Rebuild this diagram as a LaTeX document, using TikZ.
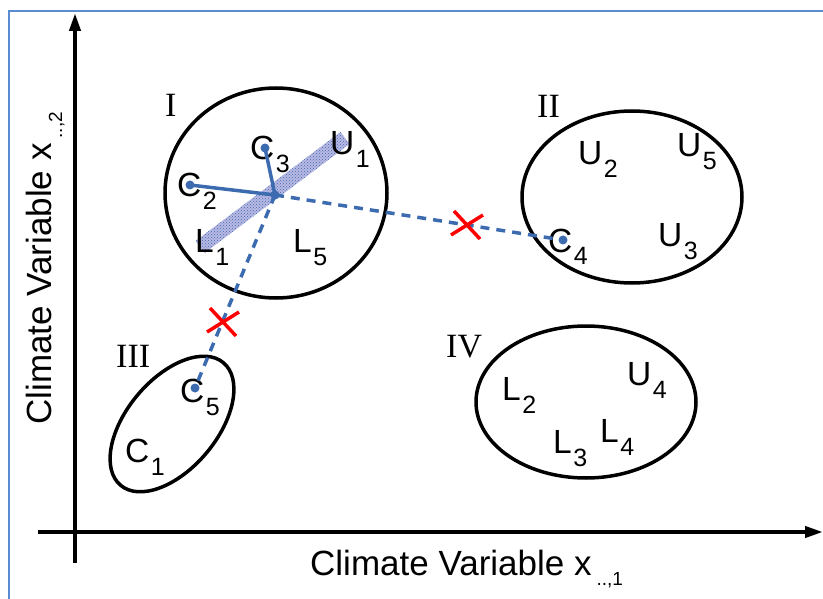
\documentclass[tikz,border=0pt]{standalone}
\usepackage{fontspec}
\setmainfont{Liberation Sans}
\newfontfamily\romfont{Liberation Serif}
\usetikzlibrary{arrows.meta,patterns}
\definecolor{cblue}{HTML}{3D6BB0}
\definecolor{framec}{HTML}{5B8BD0}
\definecolor{bandc}{RGB}{185,185,228}
\newcommand{\sbs}[1]{\kern1.5pt\raisebox{-13pt}{\fontsize{25}{25}\selectfont #1}}
\newcommand{\axsub}[1]{\kern5pt\raisebox{-10pt}{\fontsize{19}{19}\selectfont #1}}
\tikzset{
  lab/.style={anchor=base west, inner sep=0pt, font=\fontsize{33.5}{33.5}\selectfont},
  roman/.style={anchor=base west, inner sep=0pt, font=\romfont\fontsize{34}{34}\selectfont},
  axlab/.style={anchor=base west, inner sep=0pt, font=\fontsize{35}{35}\selectfont},
  cluster/.style={line width=3.5pt},
  link/.style={cblue, line width=3.5pt},
  dlink/.style={cblue, line width=3.5pt, dash pattern=on 9pt off 7pt},
  cross/.style={red, line width=3.5pt}
}
\begin{document}
\begin{tikzpicture}[x=1pt,y=-1pt]
\useasboundingbox (0,0) rectangle (823,599);
% frame
\draw[framec, line width=2pt] (9,599) -- (9,11) -- (823,11);
% axes
\coordinate (xs) at (38,532);
\coordinate (xe) at (823,532);
\coordinate (ys) at (75,563);
\coordinate (ye) at (75,13);
\draw[line width=4pt, -{Triangle[length=18pt,width=11pt]}] (xs) -- (xe);
\draw[line width=4pt, -{Triangle[length=18pt,width=11pt]}] (ys) -- (ye);
\node[axlab] (xlab) at (310,575) {Climate Variable x\axsub{..,1}};
\node[axlab, rotate=90] (ylab) at (52,425) {Climate Variable x\axsub{..,2}};
% clusters
\draw[cluster] (276,193) ellipse [x radius=111, y radius=105];
\draw[cluster] (632,197) ellipse [x radius=110, y radius=86];
\draw[cluster, rotate around={50:(172,424)}] (172,424) ellipse [x radius=80, y radius=45];
\draw[cluster] (586,402) ellipse [x radius=110, y radius=76];
\node[roman] (rI) at (165,117) {I};
\node[roman] (rII) at (537,118) {II};
\node[roman] (rIII) at (116,367) {III};
\node[roman] (rIV) at (446,357) {IV};
% band
\fill[bandc] (195.5,241) -- (204.5,253) -- (349.5,144) -- (340.5,132) -- cycle;
\fill[pattern=crosshatch dots, pattern color=cblue] (195.5,241) -- (204.5,253) -- (349.5,144) -- (340.5,132) -- cycle;
% labels
\node[lab] (c3) at (250,160) {C\sbs{3}};
\node[lab] (u1) at (330,155) {U\sbs{1}};
\node[lab] (c2) at (177,197) {C\sbs{2}};
\node[lab] (l1) at (195,253) {L\sbs{1}};
\node[lab] (l5) at (293,253) {L\sbs{5}};
\node[lab] (c4) at (548,252) {C\sbs{4}};
\node[lab] (u2) at (578,165) {U\sbs{2}};
\node[lab] (u5) at (677,157) {U\sbs{5}};
\node[lab] (u3) at (658,247) {U\sbs{3}};
\node[lab] (l2) at (502,400) {L\sbs{2}};
\node[lab] (u4) at (627,385) {U\sbs{4}};
\node[lab] (l3) at (553,453) {L\sbs{3}};
\node[lab] (l4) at (600,442) {L\sbs{4}};
\node[lab] (c5) at (180,402) {C\sbs{5}};
\node[lab] (c1) at (125,462) {C\sbs{1}};
% centroids
\coordinate (hub) at (275,195);
\coordinate (c2dot) at (190,185);
\coordinate (c3dot) at (265,148);
\coordinate (c4dot) at (563,240);
\coordinate (c5dot) at (195,388);
\draw[link] (c2dot) -- (hub);
\draw[link] (c3dot) -- (hub);
\draw[dlink] (hub) -- (c4dot);
\draw[dlink] (hub) -- (c5dot);
\foreach \p in {hub,c2dot,c3dot,c4dot,c5dot}
  \fill[cblue] (\p) circle (4.5pt);
% crosses
\coordinate (x1) at (467,225);
\coordinate (x2) at (223,322);
\foreach \p in {x1,x2} {
  \draw[cross] ([shift={(-13,-14)}]\p) -- ([shift={(13,14)}]\p);
  \draw[cross] ([shift={(-16,10)}]\p) -- ([shift={(16,-10)}]\p);
}
\end{tikzpicture}
\end{document}
